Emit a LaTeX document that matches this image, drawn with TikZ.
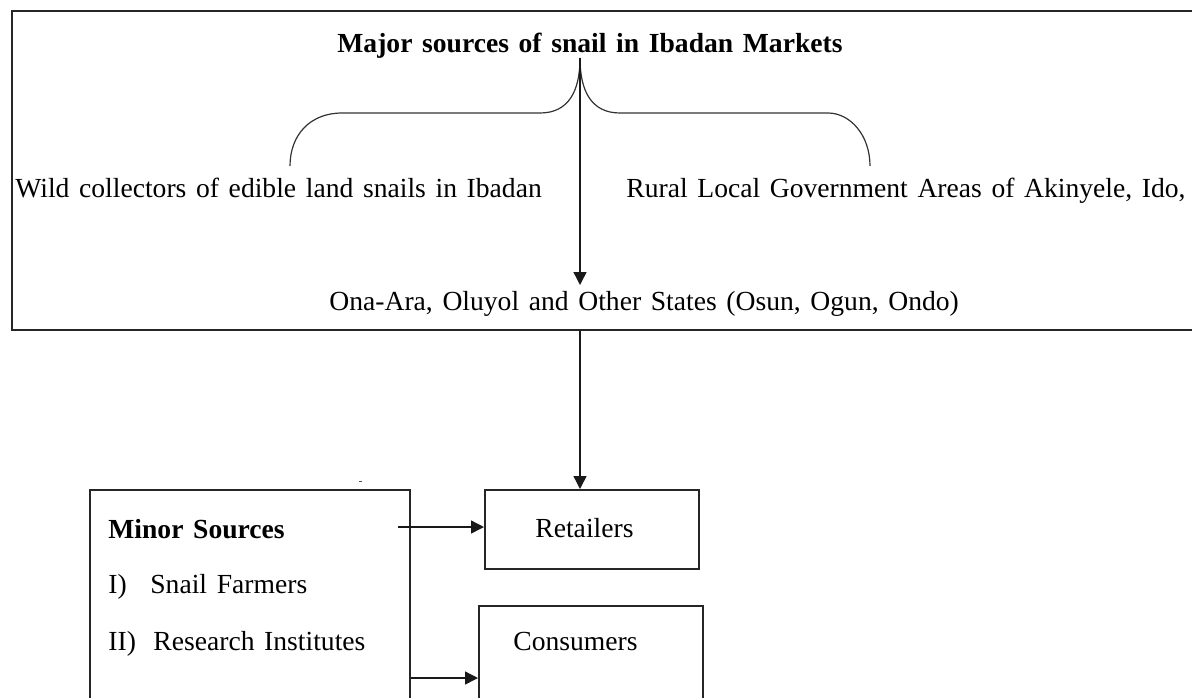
\documentclass[tikz,border=0pt]{standalone}
\usepackage{fontspec}
\setmainfont{Liberation Serif}[WordSpace=1.4]
\usetikzlibrary{arrows.meta}
\begin{document}
\begin{tikzpicture}[x=0.5pt,y=-0.5pt,
  box/.style={draw=black!85,line width=0.75pt,inner sep=0pt},
  lbl/.style={inner sep=0pt,anchor=base west,font=\fontsize{13.8}{16}\selectfont},
  conn/.style={draw=black!90,line width=0.7pt,-{Triangle[length=6.5pt,width=6.5pt]}},
  brace/.style={draw=black!80,line width=0.6pt}]
\useasboundingbox (0,0) rectangle (1192,697);
% boxes
\node[box,anchor=north west,minimum width=600pt,minimum height=159.5pt] (top) at (11,10) {};
\node[box,anchor=north west,minimum width=160pt,minimum height=130pt] (minor) at (89,489) {};
\node[box,anchor=north west,minimum width=107pt,minimum height=39.5pt] (ret) at (484,489) {};
\node[box,anchor=north west,minimum width=112pt,minimum height=60pt] (cons) at (478,605) {};
% texts
\node[lbl,font=\fontsize{13.8}{16}\selectfont\bfseries] (title) at (337,52) {Major sources of snail in Ibadan Markets};
\node[lbl] (wild) at (15,197) {Wild collectors of edible land snails in Ibadan};
\node[lbl] (rural) at (626,197) {Rural Local Government Areas of Akinyele, Ido,};
\node[lbl] (ona) at (329,310) {Ona-Ara, Oluyol and Other States (Osun, Ogun, Ondo)};
\node[lbl,font=\fontsize{13.8}{16}\selectfont\bfseries] (minhead) at (108,538) {Minor Sources};
\node[lbl] (i1) at (108,593) {I)};
\node[lbl] (farm) at (150,593) {Snail Farmers};
\node[lbl] (i2) at (108,650) {II)};
\node[lbl] (res) at (153,650) {Research Institutes};
\node[lbl] (rettxt) at (535,537) {Retailers};
\node[lbl] (constxt) at (513,650) {Consumers};
% small mark
\draw[black!70,line width=0.5pt] (359,481) -- (362,481);
% brace
\coordinate (tip) at (580,58);
\coordinate (bl) at (290,166);
\coordinate (br) at (870,166);
\draw[brace] (bl) .. controls (290,135) and (310,113) .. (342,113) -- (540,113)
  .. controls (568,113) and (580,92) .. (tip)
  .. controls (580,92) and (592,113) .. (620,113) -- (828,113)
  .. controls (850,113) and (870,135) .. (br);
% connectors
\coordinate (ah) at (580,285);
\draw[conn] (tip) -- (ah);
\coordinate (cx) at (580,0);
\draw[conn] (top.south -| cx) -- (ret.north -| cx);
\coordinate (m1) at (398,527);
\draw[conn] (m1) -- (ret.west |- m1);
\coordinate (m2) at (0,678);
\draw[conn] (minor.east |- m2) -- (cons.west |- m2);
\end{tikzpicture}
\end{document}
